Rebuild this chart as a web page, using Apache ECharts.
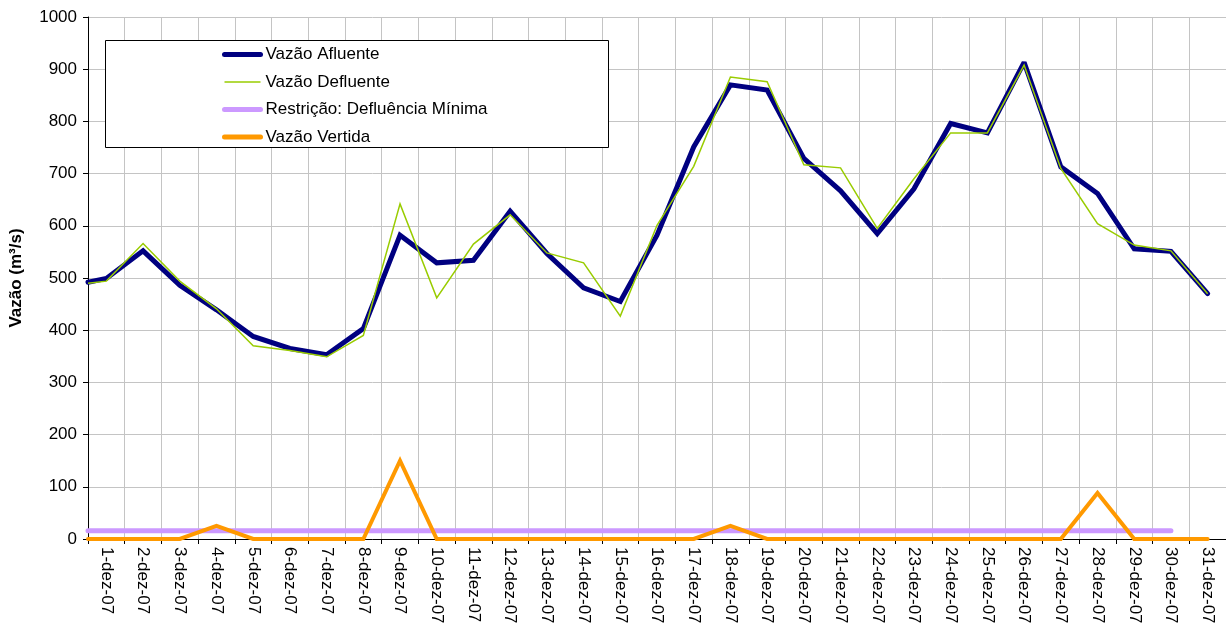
<!DOCTYPE html>
<html>
<head>
<meta charset="utf-8">
<script src="https://cdn.jsdelivr.net/npm/echarts@6/dist/echarts.min.js"></script>
<style>
html,body{margin:0;padding:0;background:#fff;}
#chart{width:1226px;height:630px;}
</style>
</head>
<body>
<div id="chart"></div>
<script>
const categories = ['1-dez-07','2-dez-07','3-dez-07','4-dez-07','5-dez-07','6-dez-07','7-dez-07','8-dez-07','9-dez-07','10-dez-07','11-dez-07','12-dez-07','13-dez-07','14-dez-07','15-dez-07','16-dez-07','17-dez-07','18-dez-07','19-dez-07','20-dez-07','21-dez-07','22-dez-07','23-dez-07','24-dez-07','25-dez-07','26-dez-07','27-dez-07','28-dez-07','29-dez-07','30-dez-07','31-dez-07'];

// value at the left edge of the plot (start of each line)
const afluenteInicio = 492;
const defluenteInicio = 490;
const restricaoInicio = 16;
const vertidaInicio = 0;

const afluente = [499,552,486,439,388,365,353,403,582,529,534,628,547,481,455,582,751,870,860,729,667,585,671,796,778,913,713,662,556,551,470];
const defluente = [494,566,494,441,370,361,349,390,642,462,565,621,548,529,427,601,714,885,876,717,711,595,690,778,778,908,710,604,563,552,470];
const restricao = [16,16,16,16,16,16,16,16,16,16,16,16,16,16,16,16,16,16,16,16,16,16,16,16,16,16,16,16,16,16];
const vertida = [0,0,0,25,0,0,0,0,150,0,0,0,0,0,0,0,0,25,0,0,0,0,0,0,0,0,0,88,0,0,0];

const yTicks = {min:0, max:1000, interval:100};

function pts(start, arr){
  const out = [[0, start]];
  arr.forEach((v,i)=>out.push([i+0.5, v]));
  return out;
}

const FONT = "'Liberation Sans', Arial, sans-serif";
const chart = echarts.init(document.getElementById('chart'), null, {renderer:'canvas'});

chart.setOption({
  backgroundColor:'#ffffff',
  animation:false,
  textStyle:{fontFamily:FONT},
  grid:{left:88, top:17, right:0, bottom:91, containLabel:false},
  graphic:[{
    type:'rect', left:105, top:40, z:100,
    shape:{width:503, height:107},
    style:{fill:'#ffffff', stroke:'#000000', lineWidth:1}
  }],
  legend:{
    orient:'vertical', left:222, top:46, z:101,
    itemWidth:36, itemHeight:16, itemGap:10.5, padding:0,
    itemStyle:{opacity:0},
    textStyle:{fontFamily:FONT, fontSize:17, color:'#000'},
    data:[
      {name:'Vazão Afluente', lineStyle:{width:5, color:'#000080'}},
      {name:'Vazão Defluente', lineStyle:{width:1.5, color:'#99cc00'}},
      {name:'Restrição: Defluência Mínima', lineStyle:{width:5, color:'#cc99ff'}},
      {name:'Vazão Vertida', lineStyle:{width:5, color:'#ff9900'}}
    ]
  },
  xAxis:[{
    type:'category', data:categories, boundaryGap:true, position:'bottom',
    axisLine:{show:true, lineStyle:{color:'#000', width:1}},
    axisTick:{show:true, interval:0, length:5, lineStyle:{color:'#000'}},
    axisLabel:{interval:0, rotate:-90, margin:8, fontSize:17, color:'#000', fontFamily:FONT},
    splitLine:{show:true, interval:0, lineStyle:{color:'#c4c4c4', width:1}}
  },{
    type:'value', min:0, max:categories.length, show:false
  }],
  yAxis:{
    type:'value', min:yTicks.min, max:yTicks.max, interval:yTicks.interval,
    name:'Vazão (m³/s)', nameLocation:'middle', nameGap:63,
    nameTextStyle:{fontFamily:FONT, fontSize:17, fontWeight:'bold', color:'#000'},
    axisLine:{show:true, lineStyle:{color:'#000', width:1}},
    axisTick:{show:true, length:5, lineStyle:{color:'#000'}},
    axisLabel:{fontSize:17, color:'#000', margin:11, fontFamily:FONT, formatter:(v)=>String(v)},
    splitLine:{show:true, lineStyle:{color:'#c4c4c4', width:1}}
  },
  series:[
    {name:'Vazão Afluente', type:'line', xAxisIndex:1, showSymbol:false, symbol:'none',
     data:pts(afluenteInicio, afluente), color:'#000080',
     lineStyle:{color:'#000080', width:5, join:'miter', miterLimit:2, cap:'round'}},
    {name:'Vazão Defluente', type:'line', xAxisIndex:1, showSymbol:false, symbol:'none',
     data:pts(defluenteInicio, defluente), color:'#99cc00',
     lineStyle:{color:'#99cc00', width:1.5, join:'miter'}},
    {name:'Restrição: Defluência Mínima', type:'line', xAxisIndex:1, showSymbol:false, symbol:'none',
     data:pts(restricaoInicio, restricao), color:'#cc99ff',
     lineStyle:{color:'#cc99ff', width:5, cap:'round'}},
    {name:'Vazão Vertida', type:'line', xAxisIndex:1, showSymbol:false, symbol:'none',
     data:pts(vertidaInicio, vertida), color:'#ff9900',
     lineStyle:{color:'#ff9900', width:4, join:'miter', cap:'round'}}
  ]
});
</script>
</body>
</html>
